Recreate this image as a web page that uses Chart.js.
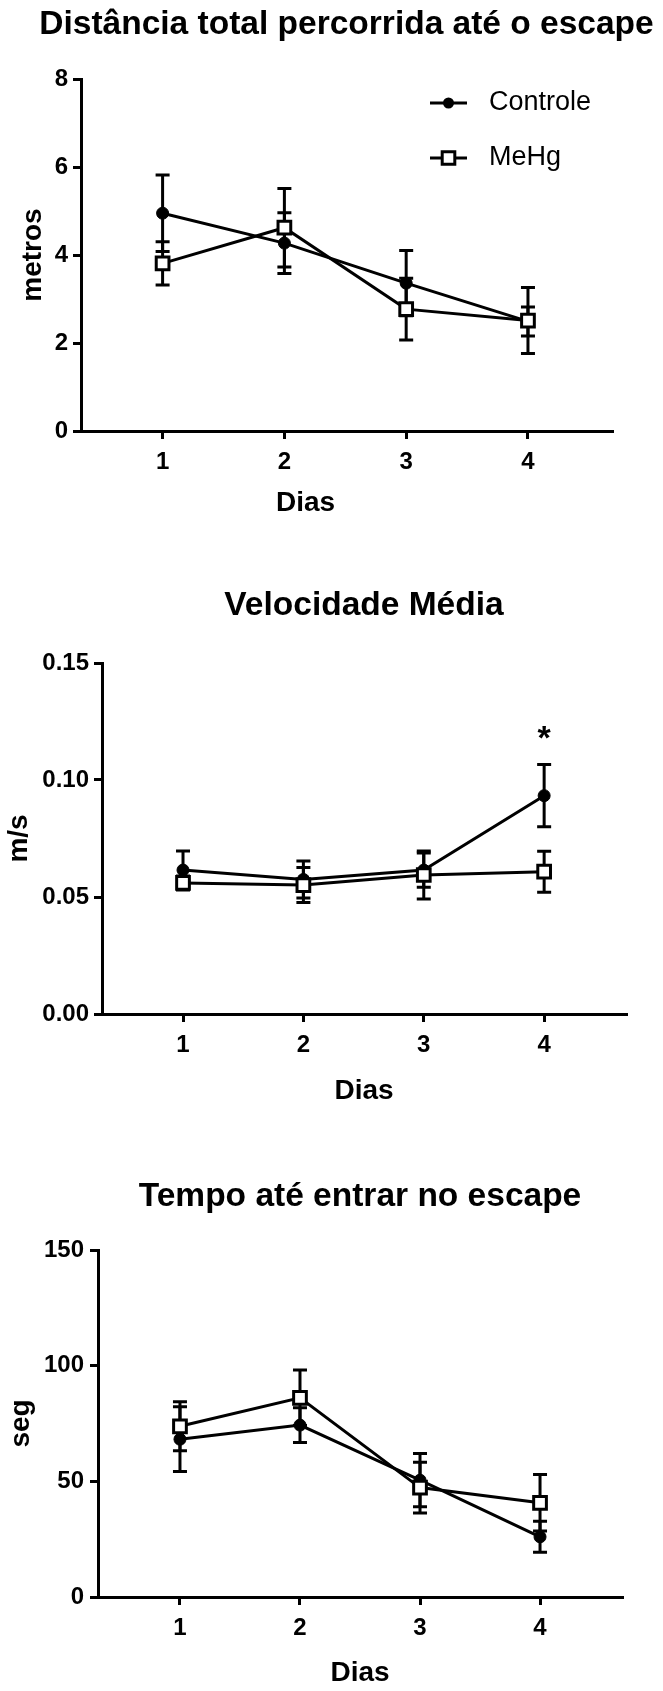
<!DOCTYPE html>
<html>
<head>
<meta charset="utf-8">
<script src="https://cdn.jsdelivr.net/npm/chart.js@4.4.1/dist/chart.umd.min.js"></script>
<style>
html,body{margin:0;padding:0;background:#fff;}
#wrap{position:relative;width:663px;height:1691px;background:#fff;}
canvas{position:absolute;left:0;}
</style>
</head>
<body>
<div id="wrap">
<canvas id="c1" width="663" height="540" style="top:0px"></canvas>
<canvas id="c2" width="663" height="580" style="top:540px"></canvas>
<canvas id="c3" width="663" height="571" style="top:1120px"></canvas>
</div>
<script>
// ---------- DATA ----------
const days = [1, 2, 3, 4];
const dayLabels = ['1', '2', '3', '4'];
const seriesNames = ['Controle', 'MeHg'];
const xAxisTitle = 'Dias';

// Panel 1: Distância total percorrida até o escape (metros)
const distTitle = 'Distância total percorrida até o escape';
const distYTitle = 'metros';
const distControle = [4.95, 4.27, 3.36, 2.49];
const distControleSem = [0.87, 0.69, 0.74, 0.33];
const distMeHg = [3.81, 4.62, 2.77, 2.51];
const distMeHgSem = [0.49, 0.89, 0.70, 0.75];
const distTicks = [0, 2, 4, 6, 8];
const distTickLabels = ['0', '2', '4', '6', '8'];

// Panel 2: Velocidade Média (m/s)
const velTitle = 'Velocidade Média';
const velYTitle = 'm/s';
const velControle = [0.0615, 0.0575, 0.0615, 0.0933];
const velControleSem = [0.0082, 0.0079, 0.0073, 0.0133];
const velMeHg = [0.0560, 0.0551, 0.0594, 0.0608];
const velMeHgSem = [0.0030, 0.0075, 0.0103, 0.0088];
const velTicks = [0, 0.05, 0.10, 0.15];
const velTickLabels = ['0.00', '0.05', '0.10', '0.15'];
const velSignificance = [{ index: 3, text: '*' }];

// Panel 3: Tempo até entrar no escape (seg)
const tempoTitle = 'Tempo até entrar no escape';
const tempoYTitle = 'seg';
const tempoControle = [68.2, 74.3, 50.5, 26.0];
const tempoControleSem = [14.0, 7.5, 11.5, 6.7];
const tempoMeHg = [73.8, 86.1, 47.3, 40.7];
const tempoMeHgSem = [10.6, 12.0, 11.0, 12.2];
const tempoTicks = [0, 50, 100, 150];
const tempoTickLabels = ['0', '50', '100', '150'];

// ---------- STYLE ----------
const FONT = '"Liberation Sans", Arial, Helvetica, sans-serif';
Chart.defaults.font.family = FONT;
Chart.defaults.color = '#000';

function errorBarsPlugin(errs) {
  return {
    id: 'errorBars',
    beforeDatasetsDraw(chart) {
      const ctx = chart.ctx, yS = chart.scales.y;
      errs.forEach((e, di) => {
        const meta = chart.getDatasetMeta(di);
        const ds = chart.data.datasets[di];
        ctx.save();
        ctx.strokeStyle = '#000';
        ctx.lineWidth = 3;
        meta.data.forEach((pt, i) => {
          const v = ds.data[i].y;
          const yT = yS.getPixelForValue(v + e[i]);
          const yB = yS.getPixelForValue(v - e[i]);
          ctx.beginPath();
          ctx.moveTo(pt.x, yT); ctx.lineTo(pt.x, yB);
          ctx.moveTo(pt.x - 7, yT); ctx.lineTo(pt.x + 7, yT);
          ctx.moveTo(pt.x - 7, yB); ctx.lineTo(pt.x + 7, yB);
          ctx.stroke();
        });
        ctx.restore();
      });
    }
  };
}

function textsPlugin(title, titleDy, xText, dx, dy) {
  return {
    id: 'panelTexts',
    afterDraw(chart) {
      const ctx = chart.ctx, a = chart.chartArea;
      const cx = (a.left + a.right) / 2;
      ctx.save();
      ctx.fillStyle = '#000';
      ctx.textAlign = 'center';
      ctx.textBaseline = 'middle';
      ctx.font = 'bold 33.5px ' + FONT;
      ctx.fillText(title, cx, a.top - titleDy);
      ctx.font = 'bold 28px ' + FONT;
      ctx.fillText(xText, cx + dx, a.bottom + dy);
      ctx.restore();
    }
  };
}

function legendPlugin() {
  return {
    id: 'customLegend',
    afterDraw(chart) {
      const ctx = chart.ctx, a = chart.chartArea;
      chart.data.datasets.forEach((ds, k) => {
        const y = a.top + 24 + k * 55;
        const x0 = a.right - 182, x1 = x0 + 37, cx = (x0 + x1) / 2;
        ctx.save();
        ctx.strokeStyle = '#000';
        ctx.lineWidth = 3;
        ctx.beginPath(); ctx.moveTo(x0, y); ctx.lineTo(x1, y); ctx.stroke();
        if (ds.pointStyle === 'circle') {
          ctx.fillStyle = '#000';
          ctx.beginPath(); ctx.arc(cx, y, 5.5, 0, Math.PI * 2); ctx.fill();
        } else {
          ctx.fillStyle = '#fff';
          ctx.beginPath(); ctx.rect(cx - 6.3, y - 6.3, 12.6, 12.6); ctx.fill(); ctx.stroke();
        }
        ctx.fillStyle = '#000';
        ctx.font = '27px ' + FONT;
        ctx.textAlign = 'left';
        ctx.textBaseline = 'middle';
        ctx.fillText(ds.label, x1 + 22, y);
        ctx.restore();
      });
    }
  };
}

function sigPlugin(marks, errs) {
  return {
    id: 'sigMarks',
    afterDatasetsDraw(chart) {
      const ctx = chart.ctx, yS = chart.scales.y;
      const meta = chart.getDatasetMeta(0);
      const ds = chart.data.datasets[0];
      marks.forEach(m => {
        const pt = meta.data[m.index];
        const top = yS.getPixelForValue(ds.data[m.index].y + errs[m.index]);
        ctx.save();
        ctx.fillStyle = '#000';
        ctx.font = 'bold 34px ' + FONT;
        ctx.textAlign = 'center';
        ctx.textBaseline = 'alphabetic';
        ctx.fillText(m.text, pt.x, top - 16);
        ctx.restore();
      });
    }
  };
}

function buildPanel(id, p) {
  const plugins = [errorBarsPlugin([p.ctrlSem, p.mehgSem]),
                   textsPlugin(p.title, p.titleDy, xAxisTitle, p.xTitleDx, p.xTitleDy)];
  if (p.legend) plugins.push(legendPlugin());
  if (p.sig) plugins.push(sigPlugin(p.sig, p.ctrlSem));
  return new Chart(document.getElementById(id), {
    type: 'line',
    data: {
      datasets: [
        {
          label: seriesNames[0],
          data: days.map((d, i) => ({ x: d, y: p.ctrl[i] })),
          borderColor: '#000', borderWidth: 3, fill: false, tension: 0,
          pointStyle: 'circle', pointRadius: 6, pointBackgroundColor: '#000',
          pointBorderColor: '#000', pointBorderWidth: 1, order: 1
        },
        {
          label: seriesNames[1],
          data: days.map((d, i) => ({ x: d, y: p.mehg[i] })),
          borderColor: '#000', borderWidth: 3, fill: false, tension: 0,
          pointStyle: 'rect', pointRadius: 9, pointBackgroundColor: '#fff',
          pointBorderColor: '#000', pointBorderWidth: 3, order: 0
        }
      ]
    },
    options: {
      responsive: false, animation: false, devicePixelRatio: 1,
      layout: { padding: { left: 0, right: p.padRight, top: p.chartTop, bottom: 0 } },
      plugins: {
        legend: { display: false },
        tooltip: { enabled: false },
        title: { display: false }
      },
      scales: {
        x: {
          type: 'linear', position: 'bottom', min: p.xMin, max: p.xMax,
          afterBuildTicks: s => { s.ticks = days.map(v => ({ value: v })); },
          afterFit: s => { s.height = p.xH; },
          ticks: {
            callback: (v, i) => dayLabels[i],
            font: { size: 24, weight: 'bold' }, color: '#000',
            padding: 8.6, maxRotation: 0, autoSkip: false
          },
          grid: { drawOnChartArea: false, drawTicks: true, tickLength: 8, lineWidth: 3, color: '#000' },
          border: { display: true, width: 3, color: '#000' }
        },
        y: {
          type: 'linear', position: 'left',
          min: p.yTicks[0], max: p.yTicks[p.yTicks.length - 1],
          afterBuildTicks: s => { s.ticks = p.yTicks.map(v => ({ value: v })); },
          afterFit: s => { s.width = p.yW; },
          ticks: {
            callback: (v, i) => p.yTickLabels[i],
            font: { size: 24, weight: 'bold' }, color: '#000',
            padding: p.yTickPad, autoSkip: false
          },
          grid: { drawOnChartArea: false, drawTicks: true, tickLength: 8, lineWidth: 3, color: '#000' },
          border: { display: true, width: 3, color: '#000' },
          title: {
            display: true, text: p.yTitle, color: '#000',
            font: { size: 28, weight: 'bold' },
            padding: { top: p.yTitlePad, bottom: 0 }
          }
        }
      }
    },
    plugins: plugins
  });
}

buildPanel('c1', {
  title: distTitle, yTitle: distYTitle,
  ctrl: distControle, ctrlSem: distControleSem, mehg: distMeHg, mehgSem: distMeHgSem,
  yTicks: distTicks, yTickLabels: distTickLabels,
  xMin: 0.33, xMax: 4.69, yW: 81, padRight: 51, chartTop: 79, xH: 109,
  titleDy: 54, yTitlePad: 16.2, yTickPad: 5,
  xTitleDx: -41, xTitleDy: 72, legend: true
});
buildPanel('c2', {
  title: velTitle, yTitle: velYTitle,
  ctrl: velControle, ctrlSem: velControleSem, mehg: velMeHg, mehgSem: velMeHgSem,
  yTicks: velTicks, yTickLabels: velTickLabels,
  xMin: 0.327, xMax: 4.68, yW: 102, padRight: 37, chartTop: 123, xH: 106,
  titleDy: 57, yTitlePad: 2.2, yTickPad: 5,
  xTitleDx: 0, xTitleDy: 77, sig: velSignificance
});
buildPanel('c3', {
  title: tempoTitle, yTitle: tempoYTitle,
  ctrl: tempoControle, ctrlSem: tempoControleSem, mehg: tempoMeHg, mehgSem: tempoMeHgSem,
  yTicks: tempoTicks, yTickLabels: tempoTickLabels,
  xMin: 0.317, xMax: 4.683, yW: 98, padRight: 41, chartTop: 130, xH: 94,
  titleDy: 53, yTitlePad: 4.2, yTickPad: 6,
  xTitleDx: 0, xTitleDy: 76
});
</script>
</body>
</html>
